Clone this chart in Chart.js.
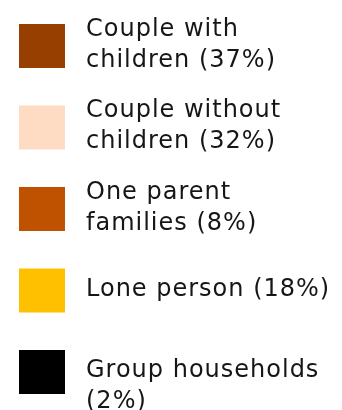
<!DOCTYPE html>
<html>
<head>
<meta charset="utf-8">
<script src="https://cdn.jsdelivr.net/npm/chart.js@4"></script>
<style>
  html, body { margin: 0; padding: 0; background: #fff; }
  #wrap { width: 342px; height: 410px; }
</style>
</head>
<body>
<div id="wrap"><canvas id="chart-households" width="342" height="410"></canvas></div>
<script>
// Household composition — legend only

const CATEGORIES = [
  ["Couple with", "children"],
  ["Couple without", "children"],
  ["One parent", "families"],
  ["Lone person"],
  ["Group households"],
];
const SHARES = [37, 32, 8, 18, 2];
const COLORS = ["#973f00", "#fedcc3", "#be5200", "#ffc000", "#000000"];

// last line gets the share appended, e.g. "children (37%)"
const LABELS = CATEGORIES.map((lines, i) => {
  const out = lines.slice();
  out[out.length - 1] += ` (${SHARES[i]}%)`;
  return out.length === 1 ? out[0] : out;
});

// ── Legend drawn as a vertical list ──────────────────────────────────
const listLegend = {
  id: "listLegend",
  afterDraw(chart, args, opts) {
    const { ctx } = chart;
    const items = chart.options.plugins.legend.labels.generateLabels(chart);
    const textX = opts.left + opts.boxWidth + opts.gap;
    const maxW = chart.width - textX - 4;

    ctx.save();
    ctx.font = opts.font;
    if ("letterSpacing" in ctx) ctx.letterSpacing = opts.letterSpacing;
    ctx.textBaseline = "alphabetic";
    ctx.textAlign = "left";

    // wrap a line that is too wide
    const wrap = line => {
      const words = line.split(" ");
      const res = [];
      let cur = "";
      words.forEach(w => {
        const test = cur ? cur + " " + w : w;
        if (cur && ctx.measureText(test).width > maxW) { res.push(cur); cur = w; }
        else cur = test;
      });
      if (cur) res.push(cur);
      return res;
    };

    items.forEach((item, i) => {
      const top = opts.top + i * opts.pitch;
      ctx.fillStyle = item.fillStyle;
      ctx.fillRect(opts.left, top, opts.boxWidth, opts.boxHeight);

      const lines = [].concat(item.text);
      const mid = top + opts.boxHeight / 2;
      let y = mid - (lines.length - 1) * opts.lineHeight / 2 + opts.baselineShift;
      ctx.fillStyle = opts.color;
      lines.forEach(l => {
        wrap(l).forEach(part => {
          ctx.fillText(part, textX, y);
          y += opts.lineHeight;
        });
      });
    });
    ctx.restore();
  }
};

new Chart(document.getElementById("chart-households"), {
  type: "doughnut",
  data: {
    labels: LABELS,
    datasets: [{
      data: SHARES,
      backgroundColor: COLORS,
      borderWidth: 0,
      radius: 0,
    }]
  },
  options: {
    responsive: false,
    devicePixelRatio: 1,
    animation: false,
    events: [],
    plugins: {
      legend: { display: false },
      tooltip: { enabled: false },
      listLegend: {
        left: 19, top: 24, pitch: 81.5,
        boxWidth: 46, boxHeight: 44, gap: 21,
        font: "24px 'DejaVu Sans'", letterSpacing: "1px",
        lineHeight: 31, baselineShift: 5, color: "#161616",
      }
    }
  },
  plugins: [listLegend]
});
</script>
</body>
</html>
